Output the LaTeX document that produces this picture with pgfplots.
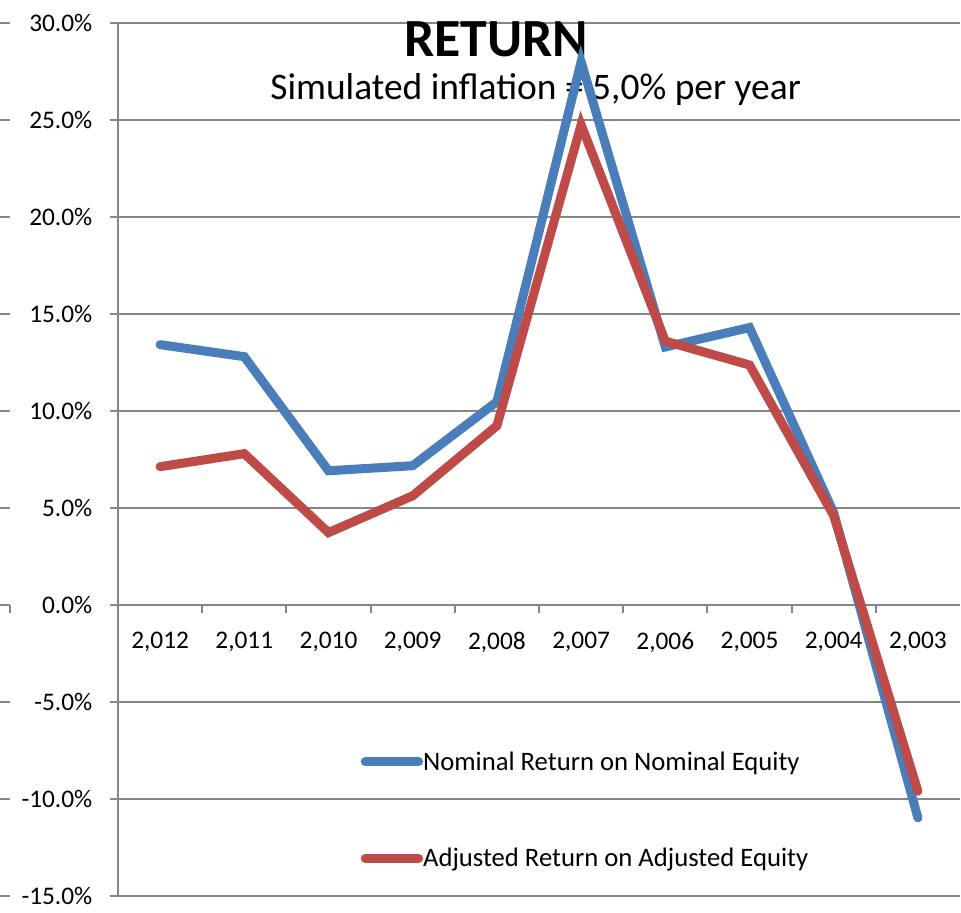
\documentclass[border=0pt]{standalone}
\usepackage{fontspec}
\setmainfont{Carlito}
\usepackage{pgfplots}
\pgfplotsset{compat=1.18}
\definecolor{nomblue}{HTML}{4A7EBB}
\definecolor{adjred}{HTML}{BE4B48}
\definecolor{gridc}{HTML}{868686}
\newcommand{\lblfont}{\fontsize{19pt}{23pt}\selectfont}

\begin{document}
\begin{tikzpicture}
\begin{axis}[
  scale only axis, width=631.5pt, height=654.75pt,
  xmin=-0.5, xmax=9.5, ymin=-15, ymax=30,
  axis x line=middle, axis y line=left,
  axis line style={draw=gridc, line width=1.5pt, -},
  xtick={0,...,9},
  xticklabels={{2,012},{2,011},{2,010},{2,009},{2,008},{2,007},{2,006},{2,005},{2,004},{2,003}},
  x tick style={draw=none},
  xticklabel style={font=\lblfont, anchor=north, yshift=-14pt},
  ytick={-15,-10,...,30},
  yticklabels={-15.0\%,-10.0\%,-5.0\%,0.0\%,5.0\%,10.0\%,15.0\%,20.0\%,25.0\%,30.0\%},
  yticklabel style={font=\lblfont, xshift=-9.75pt},
  ytick align=outside, y tick style={draw=gridc, line width=1.5pt},
  major tick length=6pt,
  ymajorgrids, grid style={draw=gridc, line width=1.5pt},
  legend style={at={(axis cs:2.38,-7.4)}, anchor=north west, draw=none, fill=none,
    font=\fontsize{20pt}{24pt}\selectfont, row sep=53pt, inner sep=0pt,
    column sep=-1.5pt, nodes={inner xsep=1.5pt}},
  legend cell align=left,
  legend image code/.code={\draw[#1, line cap=round] (0pt,0pt) -- (40pt,0pt);},
  clip=false]
  \node[font=\fontsize{40.3pt}{45pt}\selectfont\bfseries] at (axis cs:3.99,29.14) {RETURN};
  \node[font=\fontsize{28.1pt}{32pt}\selectfont] at (axis cs:4.46,26.55) {Simulated inflation = 5,0\% per year};
  \pgfplotsinvokeforeach{0.5,1.5,...,8.5}{\draw[gridc, line width=1.5pt] (axis cs:#1,0) -- (axis cs:#1,-0.4);}
  \addplot[nomblue, line width=6.75pt, line cap=round] coordinates {
    (0,13.42) (1,12.80) (2,6.92) (3,7.18) (4,10.48) (5,28.0) (6,13.3) (7,14.3) (8,4.76) (9,-10.97)};
  \addlegendentry{Nominal Return on Nominal Equity}
  \addplot[adjred, line width=6.75pt, line cap=round] coordinates {
    (0,7.13) (1,7.80) (2,3.73) (3,5.63) (4,9.24) (5,24.75) (6,13.6) (7,12.37) (8,4.6) (9,-9.6)};
  \addlegendentry{Adjusted Return on Adjusted Equity}
  \path (rel axis cs:0,0) coordinate (SW) (rel axis cs:1,1) coordinate (NE);
\end{axis}
\foreach \k in {0,...,9} \draw[gridc, line width=1.5pt] ([xshift=-88.5pt, yshift=\k*72.75pt]SW) -- ++(7.5pt,0);
\draw[gridc, line width=1.5pt] ([xshift=-81pt, yshift=218.25pt]SW) -- ++(0,-6pt);
\pgfresetboundingbox
\path ([xshift=-88.5pt, yshift=-12.75pt]SW) rectangle ([xshift=0.75pt, yshift=17.25pt]NE);
\end{tikzpicture}
\end{document}
